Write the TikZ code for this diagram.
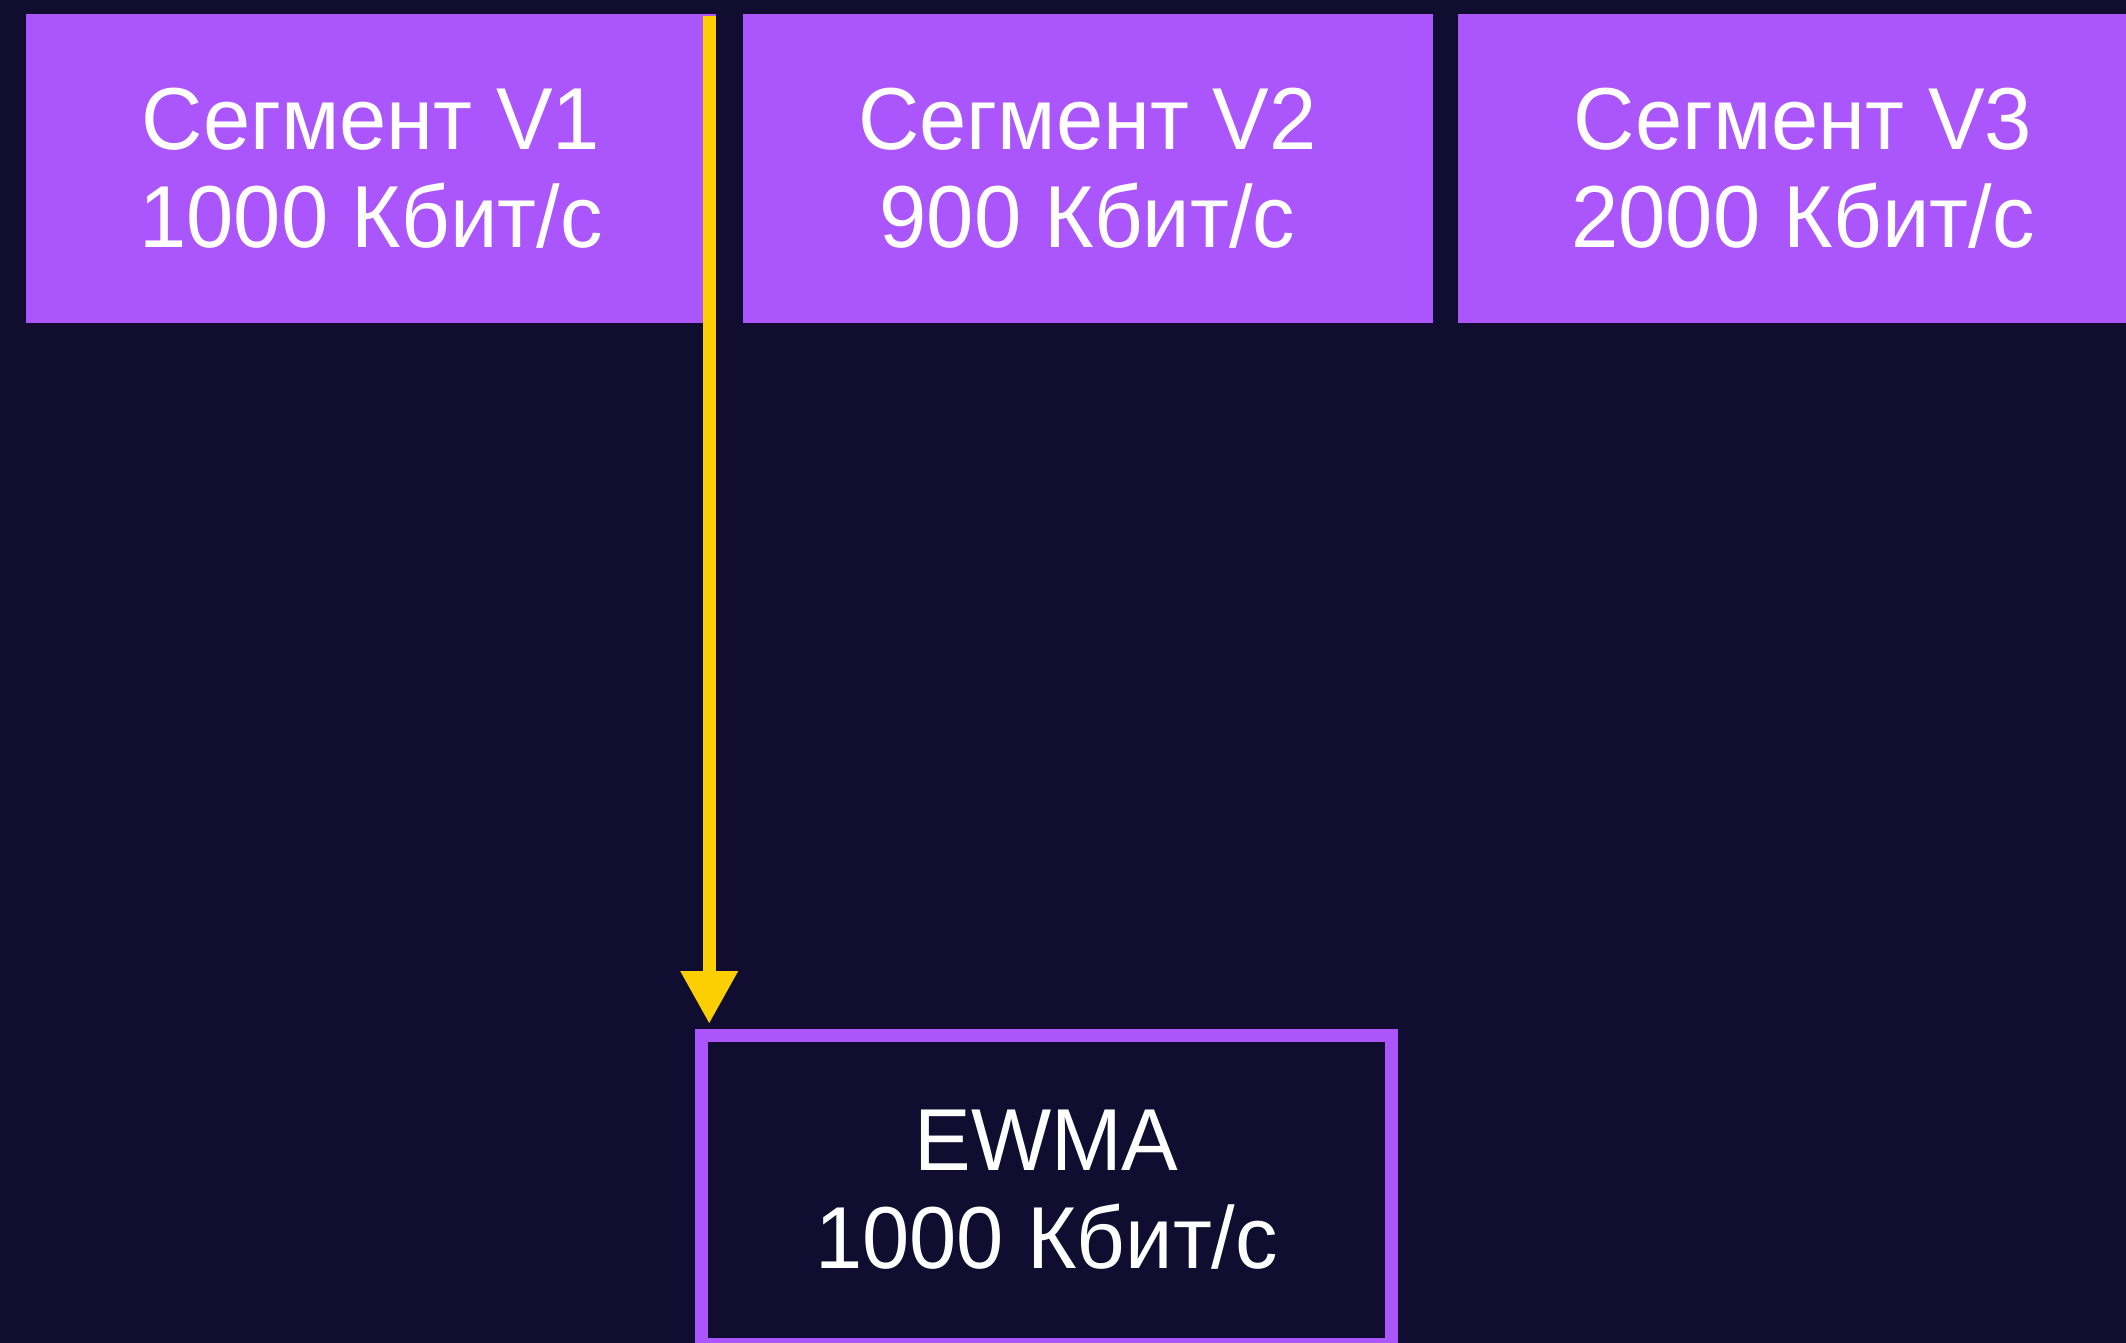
\documentclass[tikz,border=0pt]{standalone}
\usepackage{fontspec}
\setmainfont{Liberation Sans}[FakeStretch=0.965]
\usetikzlibrary{arrows.meta}
\definecolor{bgc}{HTML}{110D30}
\definecolor{seg}{HTML}{AB55FC}
\definecolor{flowc}{HTML}{FCCF00}
\tikzset{
  lbl/.style={text=white, align=center, font=\fontsize{88}{98}\selectfont, inner sep=0pt},
  segbox/.style={lbl, rectangle, fill=seg, minimum width=690pt, minimum height=309pt},
  ewmabox/.style={lbl, rectangle, draw=seg, line width=13pt, fill=bgc, minimum width=690pt, minimum height=309pt},
  flow/.style={draw=flowc, line width=13pt, -{Triangle[width=54pt,length=53pt]}}
}
\begin{document}
\begin{tikzpicture}[x=1pt,y=-1pt]
\fill[bgc] (0,0) rectangle (2126,1343);
\useasboundingbox (0,0) rectangle (2126,1343);
\node[segbox] (v1) at (371,168.5) {Сегмент V1\\1000 Кбит/с};
\node[segbox] (v2) at (1087.5,168.5) {Сегмент V2\\900 Кбит/с};
\node[segbox] (v3) at (1803,168.5) {Сегмент V3\\2000 Кбит/с};
\node[ewmabox] (ewma) at (1046.5,1190) {EWMA\\1000 Кбит/с};
\coordinate (src) at ([xshift=-7pt,yshift=-2pt]v1.north east);
\draw[flow, shorten >=5pt] (src) -- (src |- ewma.north);
\end{tikzpicture}
\end{document}
